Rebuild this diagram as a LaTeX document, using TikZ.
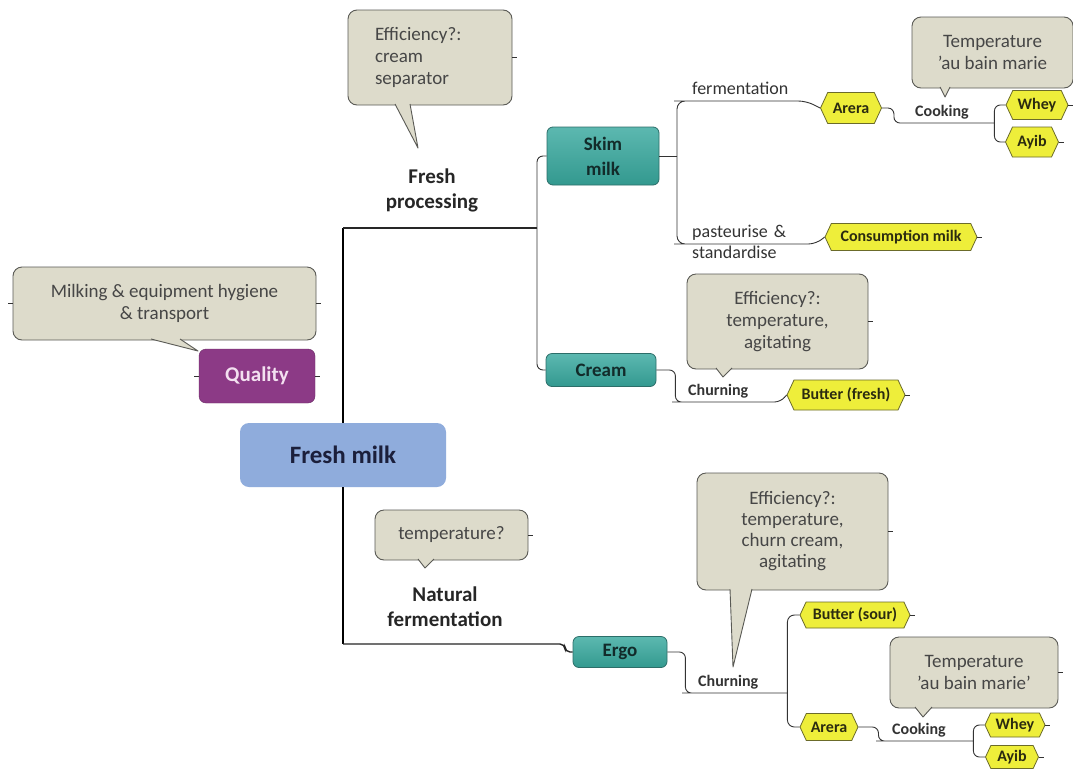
\documentclass[tikz,border=0pt]{standalone}
\usepackage{fontspec}
\setmainfont{Carlito}
\usepackage{tikz}
\usetikzlibrary{shapes.symbols}

\definecolor{notefill}{HTML}{DDDBCB}
\definecolor{noteline}{HTML}{5A5A55}
\definecolor{notetext}{HTML}{464646}
\definecolor{milkblue}{HTML}{8FACDC}
\definecolor{milktext}{HTML}{1B1F3B}
\definecolor{qualpurple}{HTML}{8C3A86}
\definecolor{qualtext}{HTML}{F3E0F0}
\definecolor{tealtop}{HTML}{5CB8B0}
\definecolor{tealfill}{HTML}{33998F}
\definecolor{tealline}{HTML}{2C6E69}
\definecolor{tealtext}{HTML}{122B2A}
\definecolor{tagyellow}{HTML}{EEEE3A}
\definecolor{tagline}{HTML}{6B6B2A}
\definecolor{tagtext}{HTML}{2B2B10}
\definecolor{linkgray}{HTML}{333333}

\begin{document}
\begin{tikzpicture}[x=1pt,y=-1pt,
      link/.style={draw=linkgray,line width=0.9pt},
      trunk/.style={draw=black,line width=2.2pt},
      stem/.style={draw=black!85,line width=1.4pt},
      stub/.style={append after command={(\tikzlastnode.east) edge[link] ++(5,0)}},
      stubs/.style={append after command={(\tikzlastnode.east) edge[link] ++(5,0)
          (\tikzlastnode.west) edge[link] ++(-5,0)}},
      root node/.style={rectangle,rounded corners=9pt,fill=milkblue,text=milktext,
          font=\bfseries\fontsize{25}{28}\selectfont},
      quality node/.style={rectangle,rounded corners=7pt,fill=qualpurple,
          draw=qualpurple!75!black,text=qualtext,font=\bfseries\fontsize{21}{24}\selectfont},
      topic node/.style={rectangle,rounded corners=6pt,draw=tealline,line width=0.8pt,
          top color=tealtop,bottom color=tealfill,text=tealtext,align=center,
          font=\bfseries\fontsize{19}{25}\selectfont},
      tag node/.style={signal,signal to=west and east,signal pointer angle=130,
          draw=tagline,line width=0.8pt,fill=tagyellow,text=tagtext,inner sep=2pt,
          font=\bfseries\fontsize{16}{18}\selectfont},
      note node/.style={rectangle,rounded corners=9pt,draw=noteline,line width=0.9pt,
          fill=notefill,text=notetext,align=center,font=\fontsize{19}{22}\selectfont},
      pointer/.style={fill=notefill,draw=noteline,line width=0.9pt,line join=round},
      group label/.style={align=center,text=black!85,font=\bfseries\fontsize{21}{25}\selectfont},
      branch label/.style={anchor=south west,inner xsep=10pt,inner ysep=3pt,text depth=3pt,
          align=left,text=linkgray,font=\fontsize{18}{21}\selectfont},
      step label/.style={branch label,font=\bfseries\fontsize{16}{19}\selectfont}]

      \useasboundingbox[fill=white] (0,0) rectangle (1073,774);

      % centre and the quality topic
      \node[root node,minimum width=206pt,minimum height=64pt] (fresh) at (343,455) {Fresh milk};
      \node[quality node,stubs,minimum width=116pt,minimum height=54pt] (quality) at (257,376) {Quality};
      \node[note node,stubs,minimum width=303pt,minimum height=73pt] (hygiene) at (164.5,303.5)
        {Milking \& equipment hygiene\\\& transport};
      \draw[pointer] (151,339) -- (198,351) -- (180,339);

      % fresh processing
      \node[group label] (fproc) at (432,190) {Fresh\\processing};
      \node[note node,stub,text width=110pt,align=left,minimum width=164pt,minimum height=95pt,
        font=\fontsize{19}{22}\selectfont] (sepnote) at (430,57.5) {Efficiency?:\\cream\\separator};
      \draw[pointer] (395,104) -- (418,148) -- (410,104);

      \node[topic node,minimum width=112pt,minimum height=58pt] (skim) at (603,156) {Skim\\milk};
      \node[topic node,minimum width=110pt,minimum height=33pt] (cream) at (601,370) {Cream};

      \node[branch label,text width=104pt] (ferm) at (682,101) {fermentation};
      \node[branch label,text width=114pt] (past) at (682,244) {pasteurise \&\\standardise};
      \node[tag node,minimum width=61pt,minimum height=31pt] (arera1) at (851,108) {Arera};
      \node[step label,text width=69pt] (cook1) at (905,123) {Cooking};
      \node[note node,minimum width=161pt,minimum height=71pt] (bainnote) at (992.5,52.5)
        {Temperature\\'au bain marie};
      \draw[pointer] (940,87) -- (945,97) -- (950,87);
      \node[tag node,stub,minimum width=62pt,minimum height=29pt] (whey1) at (1037,105) {Whey};
      \node[tag node,stub,minimum width=53pt,minimum height=30pt] (ayib1) at (1032,142) {Ayib};
      \node[tag node,stub,minimum width=152pt,minimum height=27pt] (cmilk) at (901,237) {Consumption milk};

      \node[step label,text width=82pt] (churn1) at (678,402) {Churning};
      \node[note node,stub,minimum width=181pt,minimum height=95pt] (churnnote) at (777.5,321.5)
        {Efficiency?:\\temperature,\\agitating};
      \draw[pointer] (716,368) -- (723,377) -- (732,368);
      \node[tag node,stub,minimum width=118pt,minimum height=30pt] (butterf) at (846,395) {Butter (fresh)};

      % natural fermentation
      \node[note node,stub,minimum width=153pt,minimum height=50pt] (tempnote) at (451.5,535) {temperature?};
      \draw[pointer] (418,559) -- (425,568) -- (434,559);
      \node[group label] (nferm) at (445,607) {Natural\\fermentation};
      \node[topic node,minimum width=94pt,minimum height=31pt] (ergo) at (620,652) {Ergo};

      \node[step label,text width=79pt] (churn2) at (688,693) {Churning};
      \node[note node,stub,minimum width=191pt,minimum height=117pt,font=\fontsize{19}{21}\selectfont]
        (ergonote) at (792.5,531.5) {Efficiency?:\\temperature,\\churn cream,\\agitating};
      \draw[pointer] (730,589) -- (733,667) -- (752,589);
      \node[tag node,stub,minimum width=110pt,minimum height=26pt] (butters) at (855,615) {Butter (sour)};
      \node[tag node,minimum width=58pt,minimum height=27pt] (arera2) at (829,727) {Arera};
      \node[step label,text width=71pt] (cook2) at (882,741) {Cooking};
      \node[note node,stub,minimum width=168pt,minimum height=71pt] (bainnote2) at (974,672.5)
        {Temperature\\'au bain marie'};
      \draw[pointer] (915,707) -- (923,717) -- (932,707);
      \node[tag node,stub,minimum width=60pt,minimum height=24pt] (whey2) at (1015,725) {Whey};
      \node[tag node,stub,minimum width=53pt,minimum height=23pt] (ayib2) at (1012,757) {Ayib};

      % connectors
      \coordinate (jtop) at (343,228);
      \coordinate (jproc) at (537,228);
      \coordinate (jbot) at (343,644);
      \coordinate (jskim) at (677,156);

      \draw[trunk] (fresh.north) -- (jtop);
      \draw[trunk] (fresh.south) -- (jbot);
      \draw[stem] (jtop) -- (jproc);
      \draw[stem,rounded corners=5pt] (jbot) -- ++(222,0) |- (ergo.west);

      \draw[link,rounded corners=6pt] (jproc) |- (skim.west);
      \draw[link,rounded corners=6pt] (jproc) |- (cream.west);
      \draw[link] (skim.east) -- (jskim);
      \draw[link,rounded corners=8pt] (jskim) |- (ferm.south west) -- (ferm.south east) -- (arera1.west);
      \draw[link,rounded corners=8pt] (jskim) |- (past.south west) -- (past.south east) -- (cmilk.west);
      \draw[link,rounded corners=6pt] (arera1.east) -- ++(12,0) |- (cook1.south west) -- (cook1.south east);
      \draw[link,rounded corners=6pt] (cook1.south east) |- (whey1.west);
      \draw[link,rounded corners=6pt] (cook1.south east) |- (ayib1.west);

      \draw[link,rounded corners=6pt] (cream.east) -- ++(19,0) |- (churn1.south west)
        -- (churn1.south east) -- (butterf.west);

      \draw[link,rounded corners=6pt] (ergo.east) -- ++(18,0) |- (churn2.south west) -- (churn2.south east);
      \draw[link,rounded corners=7pt] (churn2.south east) |- (butters.west);
      \draw[link,rounded corners=7pt] (churn2.south east) |- (arera2.west);
      \draw[link,rounded corners=6pt] (arera2.east) -- ++(20,0) |- (cook2.south west) -- (cook2.south east);
      \draw[link,rounded corners=6pt] (cook2.south east) |- (whey2.west);
      \draw[link,rounded corners=6pt] (cook2.south east) |- (ayib2.west);
\end{tikzpicture}
\end{document}
